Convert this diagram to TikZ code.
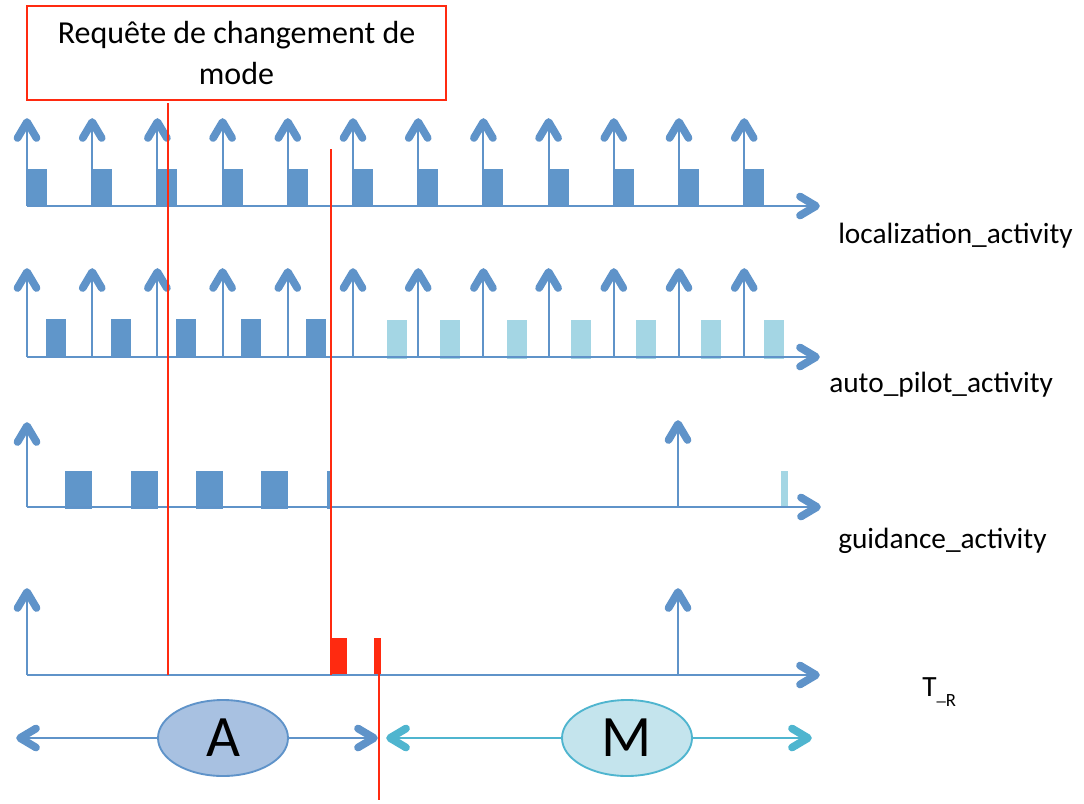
\documentclass[tikz,border=0pt]{standalone}
\usepackage{fontspec}
\setmainfont{Carlito}
\usetikzlibrary{shapes.geometric}
\definecolor{axisblue}{HTML}{5F93C9}
\definecolor{barblue}{HTML}{6096CA}
\definecolor{barcyan}{HTML}{A4D6E4}
\definecolor{alarm}{HTML}{FF2A10}
\definecolor{afill}{HTML}{A8C1E1}
\definecolor{mfill}{HTML}{C4E4ED}
\definecolor{mline}{HTML}{4FB5CF}
\begin{document}
\begin{tikzpicture}[x=0.75pt,y=-0.75pt,
  headstroke/.style={line width=5.8pt,line cap=round,line join=round},
  chevup/.pic={\draw[headstroke] (-9.5,16) -- (0,0) -- (9.5,16);},
  chevright/.pic={\draw[headstroke] (-16,-9.5) -- (0,0) -- (-16,9.5);},
  chevleft/.pic={\draw[headstroke] (16,-9.5) -- (0,0) -- (16,9.5);},
  timeaxis/.style={draw=axisblue,line width=1.9pt},
  period/.style={draw=axisblue,line width=1.5pt},
  darkbar/.style={fill=barblue},
  lightbar/.style={fill=barcyan},
  alarmbar/.style={fill=alarm},
  marker/.style={draw=alarm,line width=1.5pt},
  label/.style={anchor=west,font=\fontsize{22}{26}\selectfont,inner sep=0pt},
  mode/.style={ellipse,minimum width=97.5pt,minimum height=57pt,inner sep=0pt,
    line width=1.4pt,font=\fontsize{44}{50}\selectfont},
  request/.style={draw=alarm,fill=white,line width=1.3pt,minimum width=314pt,
    minimum height=70pt,align=center,font=\fontsize{24}{31}\selectfont}
]
\useasboundingbox (0,0) rectangle (1084,803);

% ---- localization_activity ----
\foreach \i in {0,...,11}{
  \pgfmathsetmacro{\px}{27+65.2*\i}
  \fill[darkbar] (\px,169) rectangle ++(20,37);
  \coordinate (l0\i) at (\px,206);
  \coordinate (l1\i) at (\px,122);
  \draw[period] (l0\i) -- (l1\i);
  \pic[axisblue] at (l1\i) {chevup};
}
\coordinate (la0) at (27,206);
\coordinate (la1) at (816,206);
\draw[timeaxis] (la0) -- (la1);
\pic[axisblue] at (la1) {chevright};
\node[label] (lname) at (838,236) {localization\_activity};

% ---- auto_pilot_activity ----
\foreach \bx in {46,111,176,241,306}
  \fill[darkbar] (\bx,319) rectangle ++(20,38);
\foreach \bx in {387,440,507,571,636,701,764}
  \fill[lightbar] (\bx,320) rectangle ++(20,39);
\foreach \i in {0,...,11}{
  \pgfmathsetmacro{\px}{27+65.2*\i}
  \coordinate (p0\i) at (\px,357);
  \coordinate (p1\i) at (\px,272);
  \draw[period] (p0\i) -- (p1\i);
  \pic[axisblue] at (p1\i) {chevup};
}
\coordinate (pa0) at (27,357);
\coordinate (pa1) at (816,357);
\draw[timeaxis] (pa0) -- (pa1);
\pic[axisblue] at (pa1) {chevright};
\node[label] (pname) at (829,385) {auto\_pilot\_activity};

% ---- guidance_activity ----
\foreach \bx/\bw in {65/27,131/27,196/27,261/27,327/5}
  \fill[darkbar] (\bx,471) rectangle ++(\bw,38);
\fill[lightbar] (781,471) rectangle (788,507);
\coordinate (g0) at (27,507);
\coordinate (g1) at (27,426);
\coordinate (g2) at (678,507);
\coordinate (g3) at (678,424);
\draw[period] (g0) -- (g1);
\draw[period] (g2) -- (g3);
\pic[axisblue] at (g1) {chevup};
\pic[axisblue] at (g3) {chevup};
\coordinate (ga1) at (817,507);
\draw[timeaxis] (g0) -- (ga1);
\pic[axisblue] at (ga1) {chevright};
\node[label] (gname) at (838,541) {guidance\_activity};

% ---- T_R ----
\fill[alarmbar] (332,638) rectangle (347,675);
\fill[alarmbar] (374,638) rectangle (381,675);
\coordinate (t0) at (27,675);
\coordinate (t1) at (27,592);
\coordinate (t2) at (678,675);
\coordinate (t3) at (678,592);
\draw[period] (t0) -- (t1);
\draw[period] (t2) -- (t3);
\pic[axisblue] at (t1) {chevup};
\pic[axisblue] at (t3) {chevup};
\coordinate (ta1) at (816,675);
\draw[timeaxis] (t0) -- (ta1);
\pic[axisblue] at (ta1) {chevright};
\node[label] (tname) at (922,692)
  {T\raisebox{-0.35em}{\fontsize{14}{16}\selectfont\raisebox{0.3em}{\_}R}};

% ---- mode change request and its markers ----
\node[request] (req) at (236.5,53) {Requête de changement de\\mode};
\coordinate (r1a) at (168,103);
\coordinate (r1b) at (168,675);
\coordinate (r2a) at (331,149);
\coordinate (r2b) at (331,675);
\coordinate (r3a) at (379,638);
\coordinate (r3b) at (379,800);
\draw[marker] (r1a) -- (r1b);
\draw[marker] (r2a) -- (r2b);
\draw[marker] (r3a) -- (r3b);

% ---- modes A and M ----
\node[mode,draw=axisblue,fill=afill] (A) at (223,738) {A};
\node[mode,draw=mline,fill=mfill] (M) at (627,738) {M};
\coordinate (aL) at (20,738);
\coordinate (aR) at (374,738);
\coordinate (mL) at (390,738);
\coordinate (mR) at (808,738);
\draw[timeaxis,line width=1.4pt] (A.west) -- (aL);
\draw[timeaxis,line width=1.4pt] (A.east) -- (aR);
\pic[axisblue] at (aL) {chevleft};
\pic[axisblue] at (aR) {chevright};
\draw[timeaxis,draw=mline,line width=1.4pt] (M.west) -- (mL);
\draw[timeaxis,draw=mline,line width=1.4pt] (M.east) -- (mR);
\pic[mline] at (mL) {chevleft};
\pic[mline] at (mR) {chevright};
\end{tikzpicture}
\end{document}
